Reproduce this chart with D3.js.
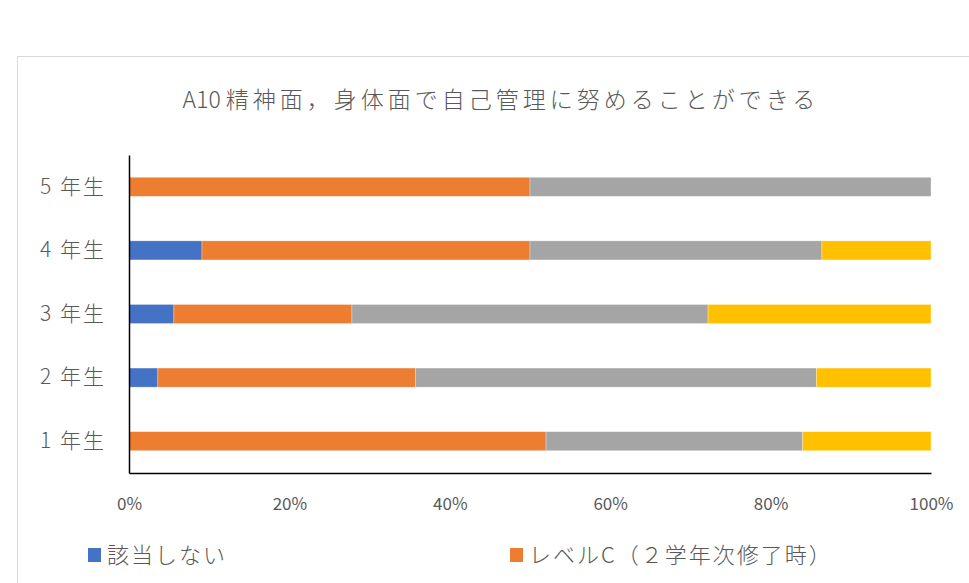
<!DOCTYPE html>
<html>
<head>
<meta charset="utf-8">
<script src="https://cdn.jsdelivr.net/npm/d3@7"></script>
<style>
  body { margin: 0; background: #fff; }
  svg text { font-family: "Noto Sans CJK JP", "Noto Sans", sans-serif; fill: #595959; }
</style>
</head>
<body>
<div id="chart"></div>
<script>
"use strict";

// categories, top to bottom
const grades = ["5 年生", "4 年生", "3 年生", "2 年生", "1 年生"];

// series names (legend order)
const seriesNames = ["該当しない", "レベルC（２学年次修了時）", "レベルB（４学年次修了時）", "レベルA（卒業時）"];
const seriesColors = ["#4472c4", "#ed7d31", "#a5a5a5", "#ffc000"];

// percent values per grade, same order as grades
const notApplicable = [0, 9.1, 5.6, 3.6, 0];
const levelC = [50, 40.9, 22.2, 32.1, 52];
const levelB = [50, 36.4, 44.4, 50.0, 32];
const levelA = [0, 13.6, 27.8, 14.3, 16];

const xTicks = [0, 20, 40, 60, 80, 100];

const width = 969, height = 583;
const margin = {top: 155, right: 38, bottom: 110, left: 129};

const svg = d3.select("#chart").append("svg")
  .attr("width", width)
  .attr("height", height);

// chart frame (runs past the right/bottom edge)
svg.append("rect")
  .attr("x", 17.5).attr("y", 56.5)
  .attr("width", 1000).attr("height", 600)
  .attr("fill", "#fff")
  .attr("stroke", "#d9d9d9");

// title: latin prefix tight, japanese part spaced out
const title = svg.append("text")
  .attr("x", 501).attr("y", 108)
  .attr("text-anchor", "middle")
  .style("font-size", "23px")
  .style("font-weight", 300);
title.append("tspan").text("A10 ");
title.append("tspan")
  .style("letter-spacing", "4px")
  .text("精神面，身体面で自己管理に努めることができる");

const plotW = width - margin.left - margin.right;
const plotH = height - margin.top - margin.bottom;

const g = svg.append("g")
  .attr("transform", `translate(${margin.left},${margin.top})`);

const xScale = d3.scaleLinear().domain([0, 100]).range([0, plotW]);
const yScale = d3.scaleBand().domain(grades).range([0, plotH]).paddingInner(0.7).paddingOuter(0.35);

// build the rows the stack needs
const keys = ["na", "c", "b", "a"];
const rows = grades.map((gr, i) => ({
  grade: gr, na: notApplicable[i], c: levelC[i], b: levelB[i], a: levelA[i]
}));
const stacked = d3.stack().keys(keys)(rows);

// bars
g.selectAll(".series")
  .data(stacked)
  .enter().append("g")
  .attr("class", "series")
  .attr("fill", (d, i) => seriesColors[i])
  .selectAll("rect")
  .data(d => d)
  .enter().append("rect")
  .attr("x", d => xScale(d[0]))
  .attr("y", d => yScale(d.data.grade))
  .attr("width", d => xScale(d[1]) - xScale(d[0]))
  .attr("height", yScale.bandwidth())
  .attr("stroke", "#fff")
  .attr("stroke-width", 0.5)
  .attr("stroke-opacity", 0.6);

// axes
const xAxis = g.append("g")
  .attr("transform", `translate(0,${plotH})`)
  .call(d3.axisBottom(xScale).tickValues(xTicks).tickFormat(d => d + "%").tickSize(0).tickPadding(25));
xAxis.select(".domain").attr("stroke", "#000").attr("stroke-width", 1.5);
xAxis.selectAll("text").style("font-size", "17px").attr("fill", "#595959");

const yAxis = g.append("g")
  .call(d3.axisLeft(yScale).tickSize(0).tickPadding(23));
yAxis.select(".domain").attr("stroke", "#000").attr("stroke-width", 1.5);
yAxis.selectAll("text")
  .style("font-size", "21px")
  .style("font-weight", 300)
  .style("letter-spacing", "2px")
  .attr("fill", "#595959");

// legend, two columns; only the first row fits inside the picture
const legendX = [88, 510];
const legendRowY = i => 555 + Math.floor(i / 2) * 50;
const legend = svg.selectAll(".legend")
  .data(seriesNames.filter((d, i) => legendRowY(i) < height))
  .enter().append("g")
  .attr("class", "legend")
  .attr("transform", (d, i) => `translate(${legendX[i % 2]},${legendRowY(i)})`);
legend.append("rect")
  .attr("x", 0).attr("y", -7)
  .attr("width", 13).attr("height", 14)
  .attr("fill", (d, i) => seriesColors[i]);
legend.append("text")
  .attr("x", 19).attr("dy", "0.35em")
  .style("font-size", "22px")
  .style("font-weight", 300)
  .style("letter-spacing", "2px")
  .text(d => d);
</script>
</body>
</html>
